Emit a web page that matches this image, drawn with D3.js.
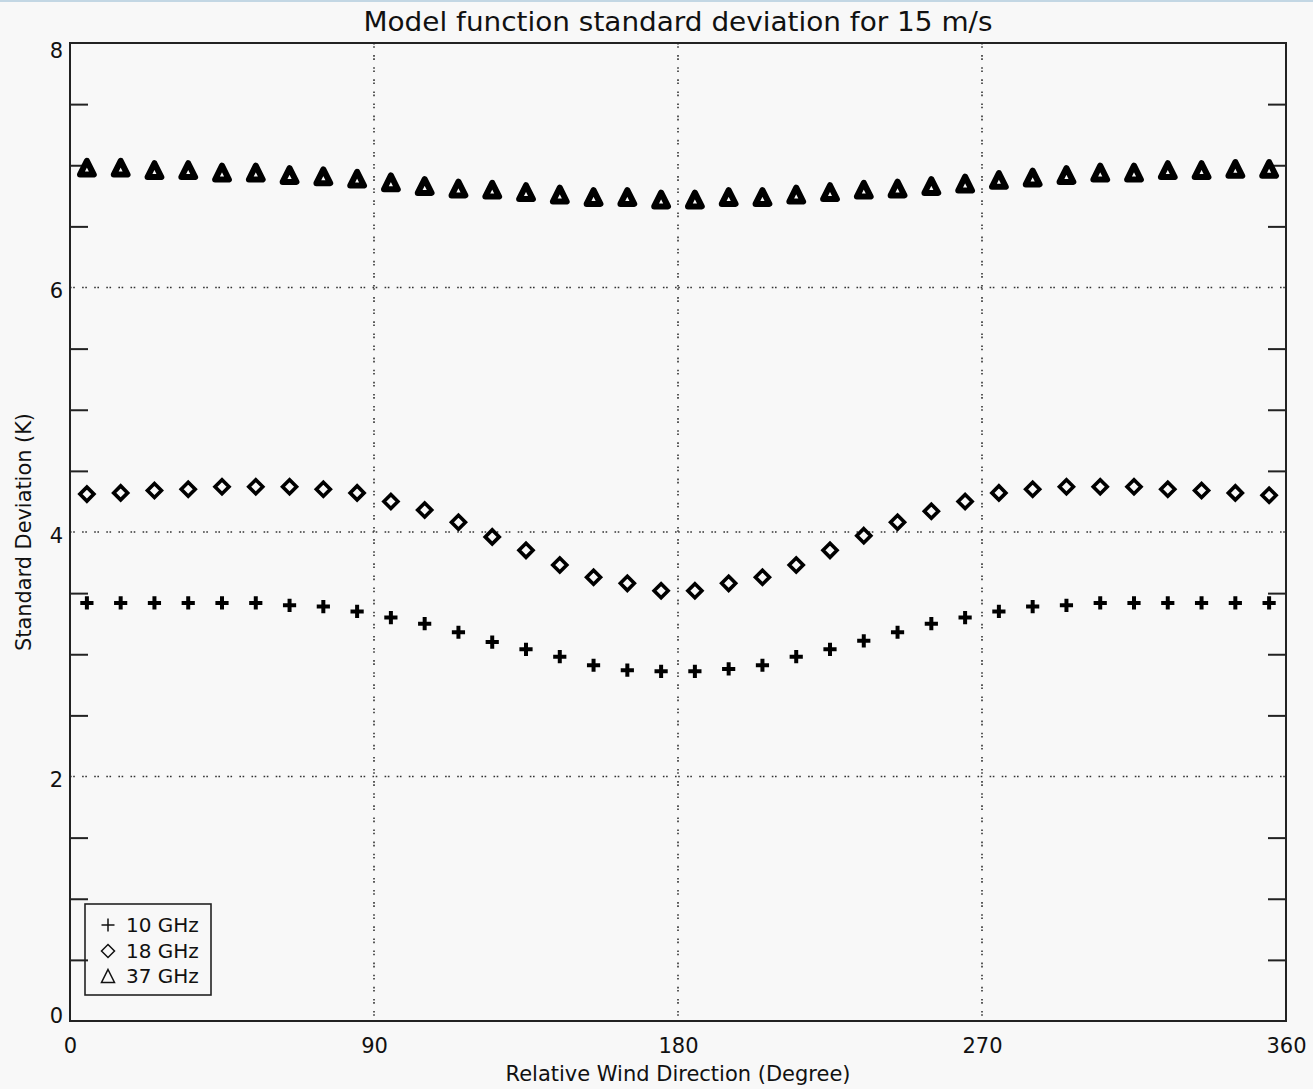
<!DOCTYPE html>
<html>
<head>
<meta charset="utf-8">
<script src="https://cdn.jsdelivr.net/npm/d3@7"></script>
<style>
  html, body { margin: 0; padding: 0; background: #f8f8f8; }
  svg { display: block; }
  text { font-family: "DejaVu Sans", sans-serif; fill: #111; }
</style>
</head>
<body>
<svg id="chart" width="1313" height="1089"></svg>
<script>
// Relative wind direction (degrees) for each sample
const directions = [5, 15, 25, 35, 45, 55, 65, 75, 85, 95, 105, 115, 125, 135, 145, 155, 165, 175,
                    185, 195, 205, 215, 225, 235, 245, 255, 265, 275, 285, 295, 305, 315, 325, 335, 345, 355];

// Model function standard deviation (K) per frequency
const sd10GHz = [3.42, 3.42, 3.42, 3.42, 3.42, 3.42, 3.40, 3.39, 3.35, 3.30, 3.25, 3.18, 3.10, 3.04, 2.98, 2.91, 2.87, 2.86,
                 2.86, 2.88, 2.91, 2.98, 3.04, 3.11, 3.18, 3.25, 3.30, 3.35, 3.39, 3.40, 3.42, 3.42, 3.42, 3.42, 3.42, 3.42];
const sd18GHz = [4.31, 4.32, 4.34, 4.35, 4.37, 4.37, 4.37, 4.35, 4.32, 4.25, 4.18, 4.08, 3.96, 3.85, 3.73, 3.63, 3.58, 3.52,
                 3.52, 3.58, 3.63, 3.73, 3.85, 3.97, 4.08, 4.17, 4.25, 4.32, 4.35, 4.37, 4.37, 4.37, 4.35, 4.34, 4.32, 4.30];
const sd37GHz = [6.98, 6.98, 6.96, 6.96, 6.94, 6.94, 6.92, 6.91, 6.89, 6.86, 6.83, 6.81, 6.80, 6.78, 6.76, 6.74, 6.74, 6.72,
                 6.72, 6.74, 6.74, 6.76, 6.78, 6.80, 6.81, 6.83, 6.85, 6.88, 6.90, 6.92, 6.94, 6.94, 6.96, 6.96, 6.97, 6.97];

const seriesNames = ["10 GHz", "18 GHz", "37 GHz"];
const seriesSymbols = ["plus", "diamond", "triangle"];

const xTicks = [0, 90, 180, 270, 360];
const yTicks = [0, 2, 4, 6, 8];
const yMinorTicks = [0.5, 1, 1.5, 2.5, 3, 3.5, 4.5, 5, 5.5, 6.5, 7, 7.5];
const xGrid = [90, 180, 270];
const yGrid = [2, 4, 6];

const titleText = "Model function standard deviation for 15 m/s";
const xTitle = "Relative Wind Direction (Degree)";
const yTitle = "Standard Deviation (K)";

const svg = d3.select("#chart");

// thin window-edge band along the top
svg.append("rect").attr("x", 0).attr("y", 0).attr("width", 1313).attr("height", 2).attr("fill", "#c3d7e4");

const plot = { left: 70, right: 1286, top: 43, bottom: 1021 };
const x = d3.scaleLinear().domain([0, 360]).range([plot.left, plot.right]);
const y = d3.scaleLinear().domain([0, 8]).range([plot.bottom, plot.top]);

// Dotted grid lines at the labelled major ticks
const gridDash = "1.6 1.6 1.6 7.3";
svg.append("g").selectAll("line.hgrid").data(yGrid).join("line")
  .attr("x1", x(0)).attr("x2", x(360))
  .attr("y1", d => y(d)).attr("y2", d => y(d))
  .attr("stroke", "#333").attr("stroke-width", 1.6).attr("stroke-dasharray", gridDash);
svg.append("g").selectAll("line.vgrid").data(xGrid).join("line")
  .attr("x1", d => x(d)).attr("x2", d => x(d))
  .attr("y1", y(8)).attr("y2", y(0))
  .attr("stroke", "#333").attr("stroke-width", 1.6).attr("stroke-dasharray", gridDash);

// Minor ticks pointing inward on both vertical sides
const leftMinor = svg.append("g").attr("transform", `translate(${x(0)},0)`)
  .call(d3.axisLeft(y).tickValues(yMinorTicks).tickSize(-18).tickFormat(""));
const rightMinor = svg.append("g").attr("transform", `translate(${x(360)},0)`)
  .call(d3.axisRight(y).tickValues(yMinorTicks).tickSize(-18).tickFormat(""));
[leftMinor, rightMinor].forEach(g => {
  g.select(".domain").remove();
  g.selectAll(".tick line").attr("stroke", "#222").attr("stroke-width", 2);
});

// Plot frame
svg.append("rect")
  .attr("x", x(0)).attr("y", y(8))
  .attr("width", x(360) - x(0)).attr("height", y(0) - y(8))
  .attr("fill", "none").attr("stroke", "#222").attr("stroke-width", 2);

// Y tick labels
svg.append("g").selectAll("text").data(yTicks).join("text")
  .attr("x", 63)
  .attr("y", d => Math.min(Math.max(y(d) + 3, plot.top + 7), plot.bottom - 6))
  .attr("dy", "0.36em")
  .attr("text-anchor", "end")
  .attr("font-size", 21)
  .text(d => d);

// X tick labels
const xAxis = svg.append("g").attr("transform", `translate(0,${y(0)})`)
  .call(d3.axisBottom(x).tickValues(xTicks).tickSize(0).tickPadding(17).tickFormat(d => d));
xAxis.select(".domain").remove();
xAxis.selectAll("text").attr("font-size", 21).attr("font-family", "DejaVu Sans, sans-serif").attr("fill", "#111");

// Titles
svg.append("text").attr("x", (plot.left + plot.right) / 2).attr("y", 31)
  .attr("text-anchor", "middle").attr("font-size", 27)
  .attr("textLength", 629).attr("lengthAdjust", "spacingAndGlyphs")
  .text(titleText);
svg.append("text").attr("x", (plot.left + plot.right) / 2).attr("y", 1081)
  .attr("text-anchor", "middle").attr("font-size", 21)
  .attr("textLength", 345).attr("lengthAdjust", "spacingAndGlyphs")
  .text(xTitle);
svg.append("text")
  .attr("transform", `translate(31,${(plot.top + plot.bottom) / 2}) rotate(-90)`)
  .attr("text-anchor", "middle").attr("font-size", 21)
  .attr("textLength", 238).attr("lengthAdjust", "spacingAndGlyphs")
  .text(yTitle);

// Marker outlines, drawn as stroked paths centred on (0,0)
function symbolPath(kind, r) {
  if (kind === "plus") return `M${-r},0H${r}M0,${-r}V${r}`;
  if (kind === "diamond") return `M0,${-r}L${r},0L0,${r}L${-r},0Z`;
  return `M0,${-r}L${r},${r}L${-r},${r}Z`;
}
const markerStyle = {
  plus: { r: 4.6, width: 4, cap: "square", join: "miter" },
  diamond: { r: 7, width: 3.6, cap: "butt", join: "miter" },
  triangle: { r: 6.9, width: 6, cap: "butt", join: "round" }
};

const allSeries = [sd10GHz, sd18GHz, sd37GHz];
allSeries.forEach((vals, i) => {
  const kind = seriesSymbols[i];
  const st = markerStyle[kind];
  svg.append("g").selectAll("path").data(directions.map((d, j) => [d, vals[j]])).join("path")
    .attr("transform", d => `translate(${x(d[0])},${y(d[1])})`)
    .attr("d", symbolPath(kind, st.r))
    .attr("fill", "none").attr("stroke", "#000")
    .attr("stroke-width", st.width)
    .attr("stroke-linecap", st.cap)
    .attr("stroke-linejoin", st.join);
});

// Legend
const legend = svg.append("g");
legend.append("rect").attr("x", 85).attr("y", 904).attr("width", 126).attr("height", 91)
  .attr("fill", "none").attr("stroke", "#222").attr("stroke-width", 1.6);
const rowY = [925, 951, 976];
seriesNames.forEach((name, i) => {
  legend.append("path")
    .attr("transform", `translate(108,${rowY[i]})`)
    .attr("d", symbolPath(seriesSymbols[i], 6.5))
    .attr("fill", "none").attr("stroke", "#111").attr("stroke-width", 1.5);
  legend.append("text").attr("x", 126).attr("y", rowY[i]).attr("dy", "0.36em")
    .attr("font-size", 20).text(name);
});
</script>
</body>
</html>
